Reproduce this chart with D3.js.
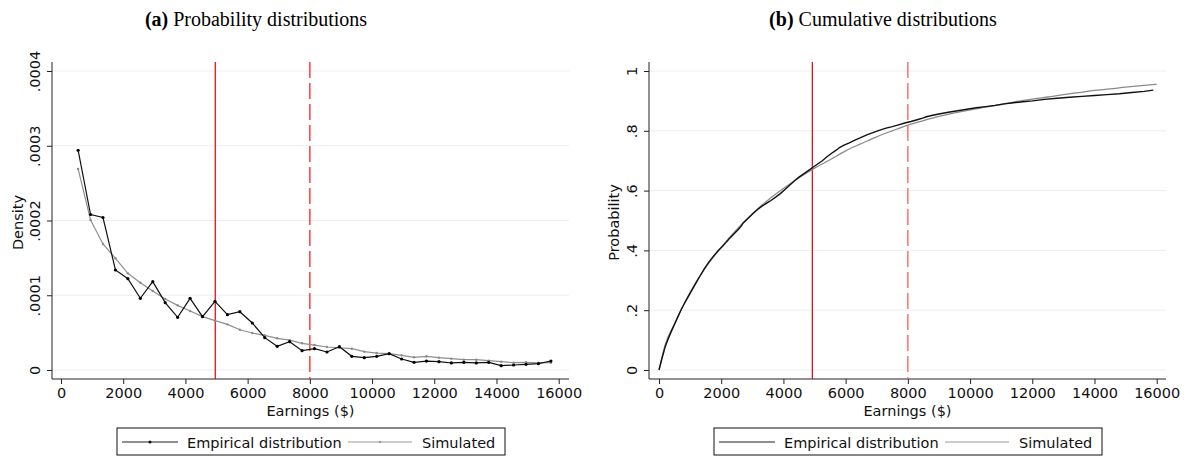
<!DOCTYPE html>
<html>
<head>
<meta charset="utf-8">
<script src="https://cdn.jsdelivr.net/npm/d3@7"></script>
<style>
  html, body { margin: 0; padding: 0; background: #fff; }
  svg { display: block; }
</style>
</head>
<body>
<svg id="chart" width="1189" height="461"></svg>
<script>
// Earnings bin midpoints used by the density panel ($)
const binEarnings = [550, 950, 1350, 1750, 2150, 2550, 2950, 3350, 3750, 4150,
  4550, 4950, 5350, 5750, 6150, 6550, 6950, 7350, 7750, 8150,
  8550, 8950, 9350, 9750, 10150, 10550, 10950, 11350, 11750, 12150,
  12550, 12950, 13350, 13750, 14150, 14550, 14950, 15350, 15750];

// Empirical density per bin
const empiricalDensity = [0.000294, 0.000208, 0.000204, 0.0001338, 0.0001222, 0.0000959, 0.0001182, 0.0000901, 0.0000705, 0.0000959,
  0.0000714, 0.0000919, 0.0000740, 0.0000780, 0.0000629, 0.0000433, 0.0000317, 0.0000379, 0.0000258, 0.0000285,
  0.0000241, 0.0000312, 0.0000183, 0.0000165, 0.0000183, 0.0000218, 0.0000147, 0.0000103, 0.0000120, 0.0000111,
  0.0000094, 0.0000103, 0.0000094, 0.0000103, 0.0000058, 0.0000067, 0.0000076, 0.0000085, 0.0000120];

// Simulated density per bin
const simulatedDensity = [0.000269, 0.0002007, 0.0001686, 0.0001494, 0.0001293, 0.0001168, 0.0001057, 0.0000950, 0.0000865, 0.0000789,
  0.0000714, 0.0000660, 0.0000611, 0.0000539, 0.0000495, 0.0000464, 0.0000424, 0.0000400, 0.0000357, 0.0000334,
  0.0000308, 0.0000298, 0.0000285, 0.0000245, 0.0000227, 0.0000218, 0.0000196, 0.0000170, 0.0000183, 0.0000165,
  0.0000152, 0.0000138, 0.0000138, 0.0000125, 0.0000111, 0.0000098, 0.0000103, 0.0000094, 0.0000098];

// Empirical cumulative distribution: earnings ($) and probability
const empiricalCdfEarnings = [0, 100, 200, 300, 400, 500, 600, 700, 800, 900,
  1000, 1150, 1300, 1450, 1600, 1750, 1900, 2050, 2150, 2250,
  2400, 2550, 2650, 2700, 2850, 3000, 3150, 3300, 3450, 3600,
  3750, 3900, 4050, 4200, 4350, 4500, 4650, 4800, 4950, 5100,
  5250, 5400, 5550, 5650, 5750, 5800, 5950, 6100, 6300, 6500,
  6700, 6900, 7100, 7300, 7500, 7700, 7900, 8100, 8300, 8500,
  8600, 8800, 9000, 9300, 9600, 9900, 10200, 10500, 10800, 11100,
  11400, 11700, 12000, 12400, 12800, 13200, 13600, 14000, 14400, 14800,
  15200, 15600, 15890];
const empiricalCdf = [0, 0.040, 0.078, 0.105, 0.130, 0.153, 0.176, 0.199, 0.219, 0.238,
  0.256, 0.284, 0.311, 0.337, 0.361, 0.381, 0.399, 0.415, 0.426, 0.438,
  0.454, 0.470, 0.482, 0.491, 0.506, 0.521, 0.535, 0.547, 0.557, 0.567,
  0.578, 0.590, 0.604, 0.618, 0.632, 0.645, 0.656, 0.667, 0.678, 0.689,
  0.700, 0.713, 0.725, 0.732, 0.739, 0.744, 0.752, 0.759, 0.769, 0.778,
  0.787, 0.795, 0.802, 0.809, 0.814, 0.820, 0.826, 0.831, 0.837, 0.843,
  0.847, 0.852, 0.856, 0.862, 0.867, 0.872, 0.877, 0.881, 0.885, 0.890,
  0.894, 0.897, 0.900, 0.905, 0.909, 0.912, 0.915, 0.918, 0.921, 0.924,
  0.928, 0.932, 0.936];

// Simulated cumulative distribution
const simulatedCdfEarnings = [0, 200, 500, 1000, 1500, 2000, 2500, 3000, 3500, 4000,
  4500, 5000, 5500, 6000, 6500, 7000, 7500, 8000, 8500, 9000,
  9500, 10000, 10500, 11000, 11500, 12000, 12500, 13000, 13500, 14000,
  14500, 15000, 15500, 16000];
const simulatedCdf = [0, 0.085, 0.155, 0.260, 0.343, 0.410, 0.470, 0.523, 0.568, 0.607,
  0.643, 0.675, 0.703, 0.733, 0.757, 0.780, 0.800, 0.819, 0.834, 0.848,
  0.860, 0.870, 0.879, 0.888, 0.898, 0.906, 0.913, 0.921, 0.928, 0.935,
  0.940, 0.946, 0.951, 0.955];

// Reference earnings thresholds ($)
const leftThresholds = { solid: 4960, dashed: 8000 };
const rightThresholds = { solid: 4930, dashed: 8000 };

const xTicks = [0, 2000, 4000, 6000, 8000, 10000, 12000, 14000, 16000];
const densityTicks = [0, 0.0001, 0.0002, 0.0003, 0.0004];
const densityTickLabels = ["0", ".0001", ".0002", ".0003", ".0004"];
const probTicks = [0, 0.2, 0.4, 0.6, 0.8, 1];
const probTickLabels = ["0", ".2", ".4", ".6", ".8", "1"];

const legendLabels = ["Empirical distribution", "Simulated"];

const svg = d3.select("#chart");
const FONT = "'DejaVu Sans', sans-serif";
const SERIF = "'Liberation Serif', 'Times New Roman', serif";

function drawPanel(opt) {
  const g = svg.append("g");
  const x = d3.scaleLinear().domain([0, 16000]).range(opt.xRange);
  const y = d3.scaleLinear().domain(opt.yDomain).range([370, 71]);
  const left = opt.plotLeft, right = opt.plotRight, top = 62, bottom = 379;

  // gridlines
  g.selectAll(".grid").data(opt.yTicks).join("line")
    .attr("x1", left).attr("x2", right)
    .attr("y1", d => y(d)).attr("y2", d => y(d))
    .attr("stroke", "#e9f0f2").attr("stroke-width", 1);

  // y axis
  const yAxis = d3.axisLeft(y).tickValues(opt.yTicks)
    .tickFormat((d, i) => opt.yTickLabels[i]).tickSize(5).tickPadding(3);
  const ya = g.append("g").attr("transform", `translate(${left},0)`).call(yAxis);
  ya.select(".domain").attr("d", `M0,${top}V${bottom}`).attr("stroke", "#222");
  ya.selectAll(".tick line").attr("stroke", "#222");
  ya.selectAll(".tick text")
    .attr("font-family", FONT).attr("font-size", 14.5).attr("fill", "#111")
    .attr("text-anchor", "middle").attr("dy", null).attr("x", null)
    .attr("transform", `translate(-12,0) rotate(-90)`)
    .attr("y", 0);

  // x axis
  const xAxis = d3.axisBottom(x).tickValues(xTicks).tickFormat(d3.format("d"))
    .tickSize(5).tickPadding(4);
  const xa = g.append("g").attr("transform", `translate(0,${bottom})`).call(xAxis);
  xa.select(".domain").attr("d", `M${left},0H${right}`).attr("stroke", "#222");
  xa.selectAll(".tick line").attr("stroke", "#222");
  xa.selectAll(".tick text")
    .attr("font-family", FONT).attr("font-size", 14.5).attr("fill", "#111");

  // axis titles
  g.append("text").attr("x", (left + right) / 2).attr("y", 416)
    .attr("text-anchor", "middle").attr("font-family", FONT).attr("font-size", 14.5)
    .attr("fill", "#111").text("Earnings ($)");
  g.append("text")
    .attr("transform", `translate(${opt.yLabelX},${(top + bottom) / 2 + 2}) rotate(-90)`)
    .attr("text-anchor", "middle").attr("font-family", FONT).attr("font-size", 14.5)
    .attr("fill", "#111").text(opt.yLabel);

  // threshold lines
  g.append("line").attr("x1", x(opt.thresholds.solid)).attr("x2", x(opt.thresholds.solid))
    .attr("y1", top).attr("y2", bottom).attr("stroke", "#e8101a").attr("stroke-width", 1.3);
  g.append("line").attr("x1", x(opt.thresholds.dashed)).attr("x2", x(opt.thresholds.dashed))
    .attr("y1", top).attr("y2", bottom).attr("stroke", opt.dashColor).attr("stroke-width", 1.5)
    .attr("stroke-dasharray", "16,5");

  // title
  const t = svg.append("text").attr("x", opt.titleX).attr("y", 26)
    .attr("text-anchor", "middle").attr("font-family", SERIF).attr("font-size", 20)
    .attr("fill", "#000");
  t.append("tspan").attr("font-weight", "bold").text(opt.titleTag);
  t.append("tspan").text(" " + opt.title);

  // legend
  const lg = svg.append("g").attr("transform", `translate(${opt.legendX},428)`);
  lg.append("rect").attr("x", 0).attr("y", 0).attr("width", 388).attr("height", 27)
    .attr("fill", "#fff").attr("stroke", "#111").attr("stroke-width", 1);
  lg.append("line").attr("x1", 5).attr("x2", 61).attr("y1", 14).attr("y2", 14)
    .attr("stroke", "#222").attr("stroke-width", 1.2);
  if (opt.markers) lg.append("circle").attr("cx", 33).attr("cy", 14).attr("r", 1.5).attr("fill", "#111");
  lg.append("text").attr("x", 70).attr("y", 19.5).attr("font-family", FONT).attr("font-size", 14.5)
    .attr("fill", "#111").text(legendLabels[0]);
  lg.append("line").attr("x1", 231).attr("x2", 295).attr("y1", 14).attr("y2", 14)
    .attr("stroke", "#999").attr("stroke-width", 1.2);
  if (opt.markers) lg.append("circle").attr("cx", 263).attr("cy", 14).attr("r", 1.1).attr("fill", "#888");
  lg.append("text").attr("x", 305).attr("y", 19.5).attr("font-family", FONT).attr("font-size", 14.5)
    .attr("fill", "#111").text(legendLabels[1]);

  return { g, x, y };
}

// ---- (a) density panel ----
const pa = drawPanel({
  xRange: [61, 558.7], yDomain: [0, 0.0004], plotLeft: 52, plotRight: 569,
  yTicks: densityTicks, yTickLabels: densityTickLabels, yLabel: "Density", yLabelX: 23,
  thresholds: leftThresholds, dashColor: "#ff3c3c",
  titleX: 256, titleTag: "(a)", title: "Probability distributions",
  legendX: 117, markers: true
});
const simA = binEarnings.map((v, i) => [v, simulatedDensity[i]]);
const empA = binEarnings.map((v, i) => [v, empiricalDensity[i]]);
const lineA = d3.line().x(d => pa.x(d[0])).y(d => pa.y(d[1]));
pa.g.append("path").datum(simA).attr("d", lineA).attr("fill", "none")
  .attr("stroke", "#8f8f8f").attr("stroke-width", 1.2);
pa.g.selectAll(".simPt").data(simA).join("circle")
  .attr("cx", d => pa.x(d[0])).attr("cy", d => pa.y(d[1])).attr("r", 1.2).attr("fill", "#8a8a8a");
pa.g.append("path").datum(empA).attr("d", lineA).attr("fill", "none")
  .attr("stroke", "#111").attr("stroke-width", 1.2);
pa.g.selectAll(".empPt").data(empA).join("circle")
  .attr("cx", d => pa.x(d[0])).attr("cy", d => pa.y(d[1])).attr("r", 1.6).attr("fill", "#000");

// ---- (b) cumulative panel ----
const pb = drawPanel({
  xRange: [659, 1156.7], yDomain: [0, 1], plotLeft: 649, plotRight: 1166,
  yTicks: probTicks, yTickLabels: probTickLabels, yLabel: "Probability", yLabelX: 619,
  thresholds: rightThresholds, dashColor: "#ff7070",
  titleX: 883, titleTag: "(b)", title: "Cumulative distributions",
  legendX: 714, markers: false
});
pb.g.append("path").datum(simulatedCdfEarnings.map((v, i) => [v, simulatedCdf[i]]))
  .attr("d", d3.line().x(d => pb.x(d[0])).y(d => pb.y(d[1])).curve(d3.curveMonotoneX))
  .attr("fill", "none").attr("stroke", "#8a8a8a").attr("stroke-width", 1.3);
pb.g.append("path").datum(empiricalCdfEarnings.map((v, i) => [v, empiricalCdf[i]]))
  .attr("d", d3.line().x(d => pb.x(d[0])).y(d => pb.y(d[1])))
  .attr("fill", "none").attr("stroke", "#111").attr("stroke-width", 1.4);
</script>
</body>
</html>
